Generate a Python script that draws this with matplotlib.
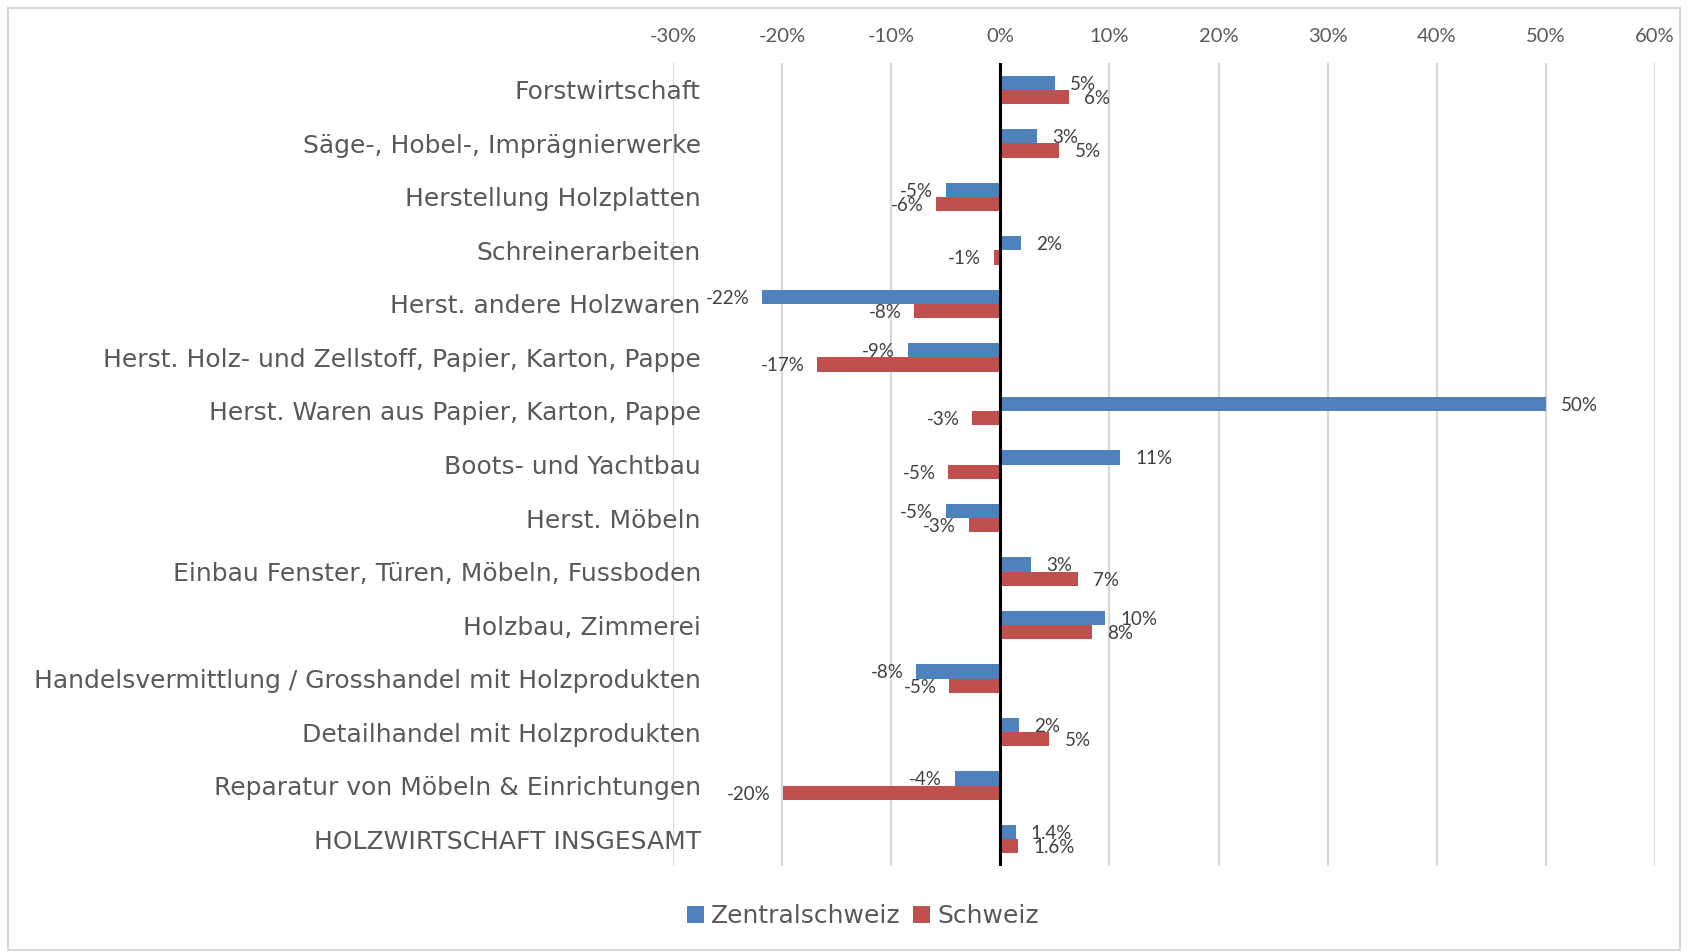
import numpy as np
import matplotlib.pyplot as plt
from matplotlib.patches import Rectangle

# Categories (top to bottom) and change in percent
categories = [
    "Forstwirtschaft",
    "Säge-, Hobel-, Imprägnierwerke",
    "Herstellung Holzplatten",
    "Schreinerarbeiten",
    "Herst. andere Holzwaren",
    "Herst. Holz- und Zellstoff, Papier, Karton, Pappe",
    "Herst. Waren aus Papier, Karton, Pappe",
    "Boots- und Yachtbau",
    "Herst. Möbeln",
    "Einbau Fenster, Türen, Möbeln, Fussboden",
    "Holzbau, Zimmerei",
    "Handelsvermittlung / Grosshandel mit Holzprodukten",
    "Detailhandel mit Holzprodukten",
    "Reparatur von Möbeln & Einrichtungen",
    "HOLZWIRTSCHAFT INSGESAMT",
]
zentralschweiz = [5.0, 3.4, -5.0, 1.9, -21.8, -8.5, 50.0, 11.0, -5.0, 2.8, 9.6, -7.7, 1.7, -4.2, 1.4]
schweiz = [6.3, 5.4, -5.9, -0.6, -7.9, -16.8, -2.6, -4.8, -2.9, 7.1, 8.4, -4.7, 4.5, -19.9, 1.6]
zentral_labels = ["5%", "3%", "-5%", "2%", "-22%", "-9%", "50%", "11%", "-5%", "3%", "10%", "-8%", "2%", "-4%", "1.4%"]
schweiz_labels = ["6%", "5%", "-6%", "-1%", "-8%", "-17%", "-3%", "-5%", "-3%", "7%", "8%", "-5%", "5%", "-20%", "1.6%"]
x_ticks = [-30, -20, -10, 0, 10, 20, 30, 40, 50, 60]

BLUE = "#4F81BD"
RED = "#C0504D"
GRID = "#D9D9D9"
TEXT = "#595959"


def label_bars(ax, values, labels, y):
    for v, lab, yy in zip(values, labels, y):
        if v >= 0:
            ax.annotate(lab, (v, yy), xytext=(11, -1), textcoords="offset points",
                        ha="left", va="center", fontsize=13.5, color="#404040")
        else:
            ax.annotate(lab, (v, yy), xytext=(-9, -1), textcoords="offset points",
                        ha="right", va="center", fontsize=13.5, color="#404040")


def main():
    plt.rcParams['font.family'] = ['Lato', 'DejaVu Sans']
    W, H = 1688, 952
    fig = plt.figure(figsize=(W / 100, H / 100), dpi=100)
    ax = fig.add_axes([673 / W, 1 - 866 / H, (1655 - 673) / W, (866 - 63) / H])

    y = np.arange(len(categories))
    h = 0.266
    ax.barh(y - h / 2, zentralschweiz, height=h, color=BLUE, label="Zentralschweiz", zorder=2)
    ax.barh(y + h / 2, schweiz, height=h, color=RED, label="Schweiz", zorder=2)

    label_bars(ax, zentralschweiz, zentral_labels, y - h / 2)
    label_bars(ax, schweiz, schweiz_labels, y + h / 2)

    ax.set_xlim(-30, 60)
    ax.set_ylim(len(categories) - 0.5, -0.5)
    ax.xaxis.tick_top()
    ax.set_xticks(x_ticks, [f"{t}%" for t in x_ticks])
    ax.tick_params(axis="x", length=0, pad=13, labelsize=14.5, labelcolor=TEXT)
    ax.set_yticks(y, categories)
    # category labels sit a bit into the plot, like in the original
    ax.tick_params(axis="y", length=0, pad=-20, labelsize=18, labelcolor=TEXT)
    for t in ax.get_yticklabels():
        t.set_fontfamily('DejaVu Sans')

    ax.grid(axis="x", color=GRID, lw=1.6, zorder=0)
    ax.axvline(0, color="black", lw=2.2, zorder=3)
    for s in ax.spines.values():
        s.set_visible(False)

    fig.legend(loc="center", bbox_to_anchor=(863 / W, 1 - 916 / H), ncol=2, frameon=False,
               prop={'family': 'DejaVu Sans', 'size': 18}, labelcolor=TEXT,
               handlelength=0.65, handleheight=0.65, handletextpad=0.3, columnspacing=0.5)

    fig.patches.append(Rectangle((8 / W, 2 / H), (1680 - 8) / W, (944 - 2) / H,
                                 transform=fig.transFigure, fill=False,
                                 edgecolor=GRID, lw=1.5))

    fig.savefig("out.png", dpi=100)
    plt.close(fig)


if __name__ == "__main__":
    main()
